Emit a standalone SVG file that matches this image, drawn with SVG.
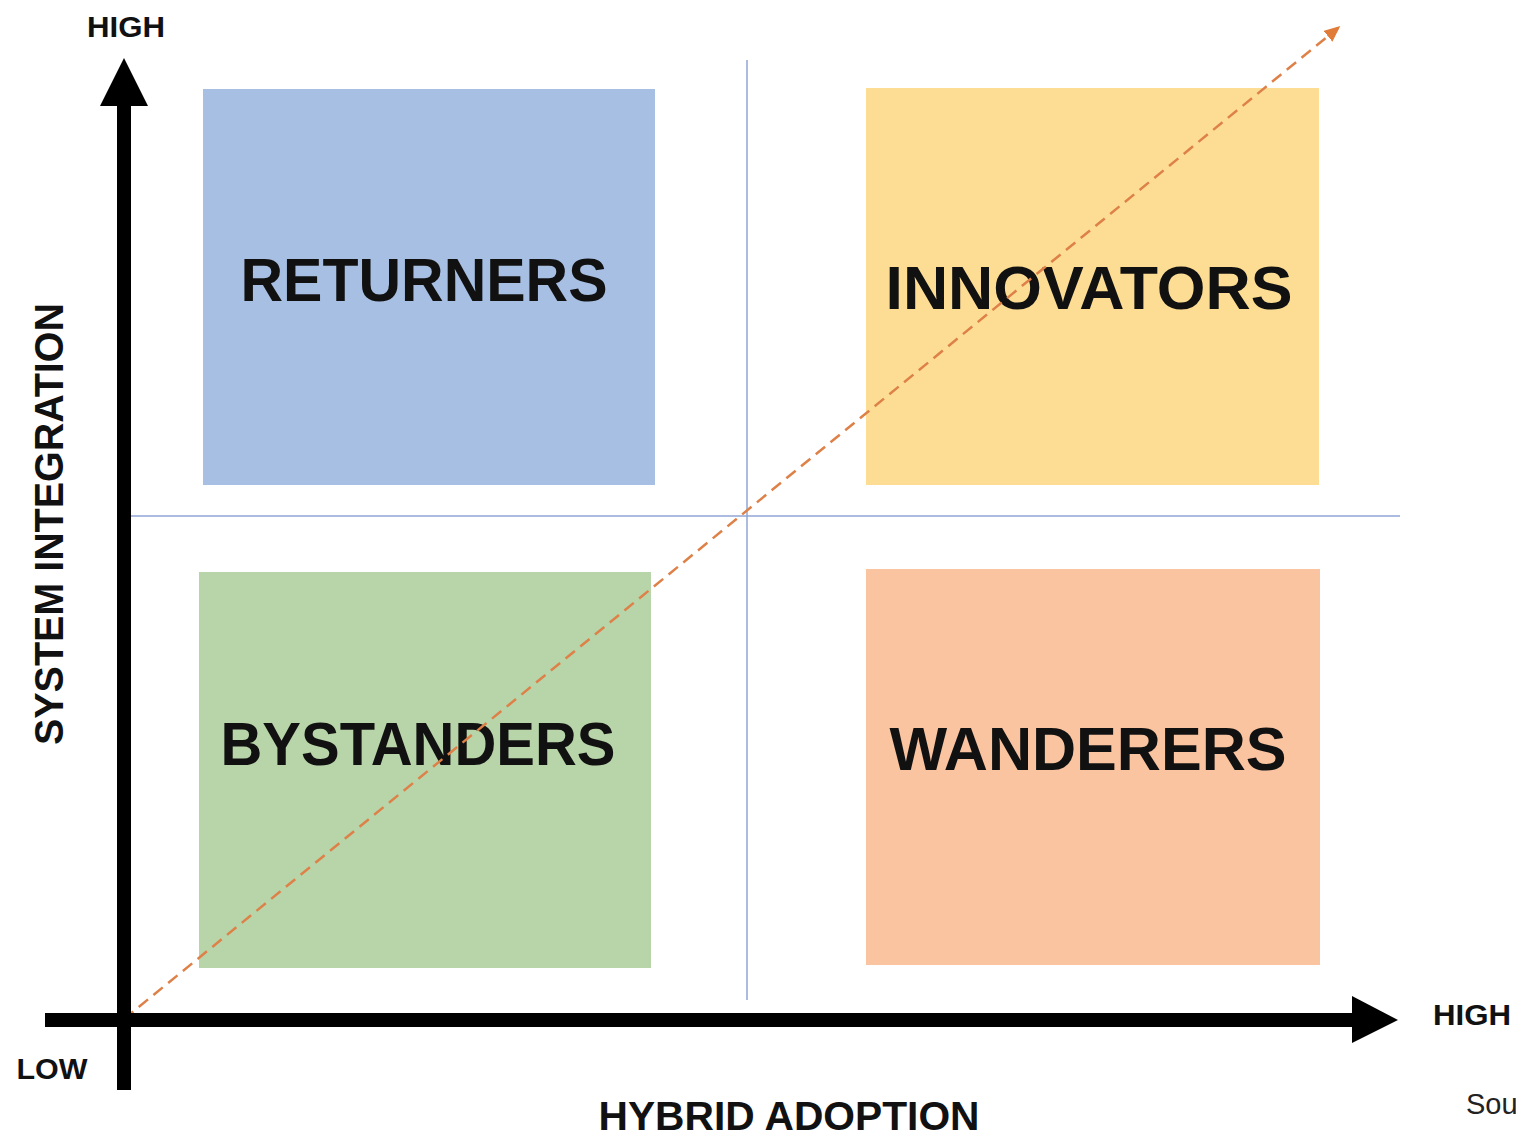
<svg xmlns="http://www.w3.org/2000/svg" width="1516" height="1138" viewBox="0 0 1516 1138">
<style>
.lbl{font-family:"Liberation Sans",Arial,sans-serif;font-weight:bold;fill:#111}
.q{font-size:62px}
.ax{font-size:29px}
.div{stroke:#8FA6D6;stroke-width:1.5;fill:none}
</style>
<defs>
<marker id="oa" markerWidth="16" markerHeight="14" refX="13" refY="7" orient="auto" markerUnits="userSpaceOnUse" viewBox="0 0 16 14">
<path d="M0,0 L16,7 L0,14 Z" fill="#E07B39"/>
</marker>
</defs>
<rect width="1516" height="1138" fill="#fff"/>
<g id="returners"><rect x="203" y="89" width="452" height="396" fill="#A7BFE3"/><text class="lbl q" x="424" y="301" text-anchor="middle" textLength="367" lengthAdjust="spacingAndGlyphs">RETURNERS</text></g>
<g id="innovators"><rect x="866" y="88" width="453" height="397" fill="#FDDD94"/><text class="lbl q" x="1089" y="309" text-anchor="middle" textLength="407" lengthAdjust="spacingAndGlyphs">INNOVATORS</text></g>
<g id="bystanders"><rect x="199" y="572" width="452" height="396" fill="#B8D4A9"/><text class="lbl q" x="418" y="765" text-anchor="middle" textLength="395" lengthAdjust="spacingAndGlyphs">BYSTANDERS</text></g>
<g id="wanderers"><rect x="866" y="569" width="454" height="396" fill="#FAC4A1"/><text class="lbl q" x="1088" y="770" text-anchor="middle" textLength="397" lengthAdjust="spacingAndGlyphs">WANDERERS</text></g>
<g id="connectors">
<line class="div" x1="747" y1="60" x2="747" y2="1000"/>
<line class="div" x1="125" y1="516" x2="1400" y2="516"/>
<line x1="124" y1="1019" x2="1338" y2="28" stroke="#DE8148" stroke-width="2.5" stroke-dasharray="12,7" marker-end="url(#oa)"/>
<g id="y-axis"><rect x="117" y="100" width="14" height="990" fill="#000"/><path d="M100,106 L124,58 L148,106 Z" fill="#000"/></g>
<g id="x-axis"><rect x="45" y="1013" width="1312" height="14" fill="#000"/><path d="M1352,996 L1398,1020 L1352,1043 Z" fill="#000"/></g>
</g>
<g id="labels">
<text class="lbl ax" x="126" y="37" text-anchor="middle" textLength="78" lengthAdjust="spacingAndGlyphs">HIGH</text>
<text class="lbl ax" x="52" y="1079" text-anchor="middle" textLength="71" lengthAdjust="spacingAndGlyphs">LOW</text>
<text class="lbl ax" x="1472" y="1025" text-anchor="middle" textLength="78" lengthAdjust="spacingAndGlyphs">HIGH</text>
<text class="lbl" x="789" y="1130" font-size="40" text-anchor="middle" textLength="381" lengthAdjust="spacingAndGlyphs">HYBRID ADOPTION</text>
<text class="lbl" transform="translate(63,524) rotate(-90)" font-size="40" text-anchor="middle" textLength="442" lengthAdjust="spacingAndGlyphs">SYSTEM INTEGRATION</text>
<text x="1466" y="1114" font-family="Liberation Sans,Arial,sans-serif" font-size="29" fill="#222">Sou</text>
</g>
</svg>
